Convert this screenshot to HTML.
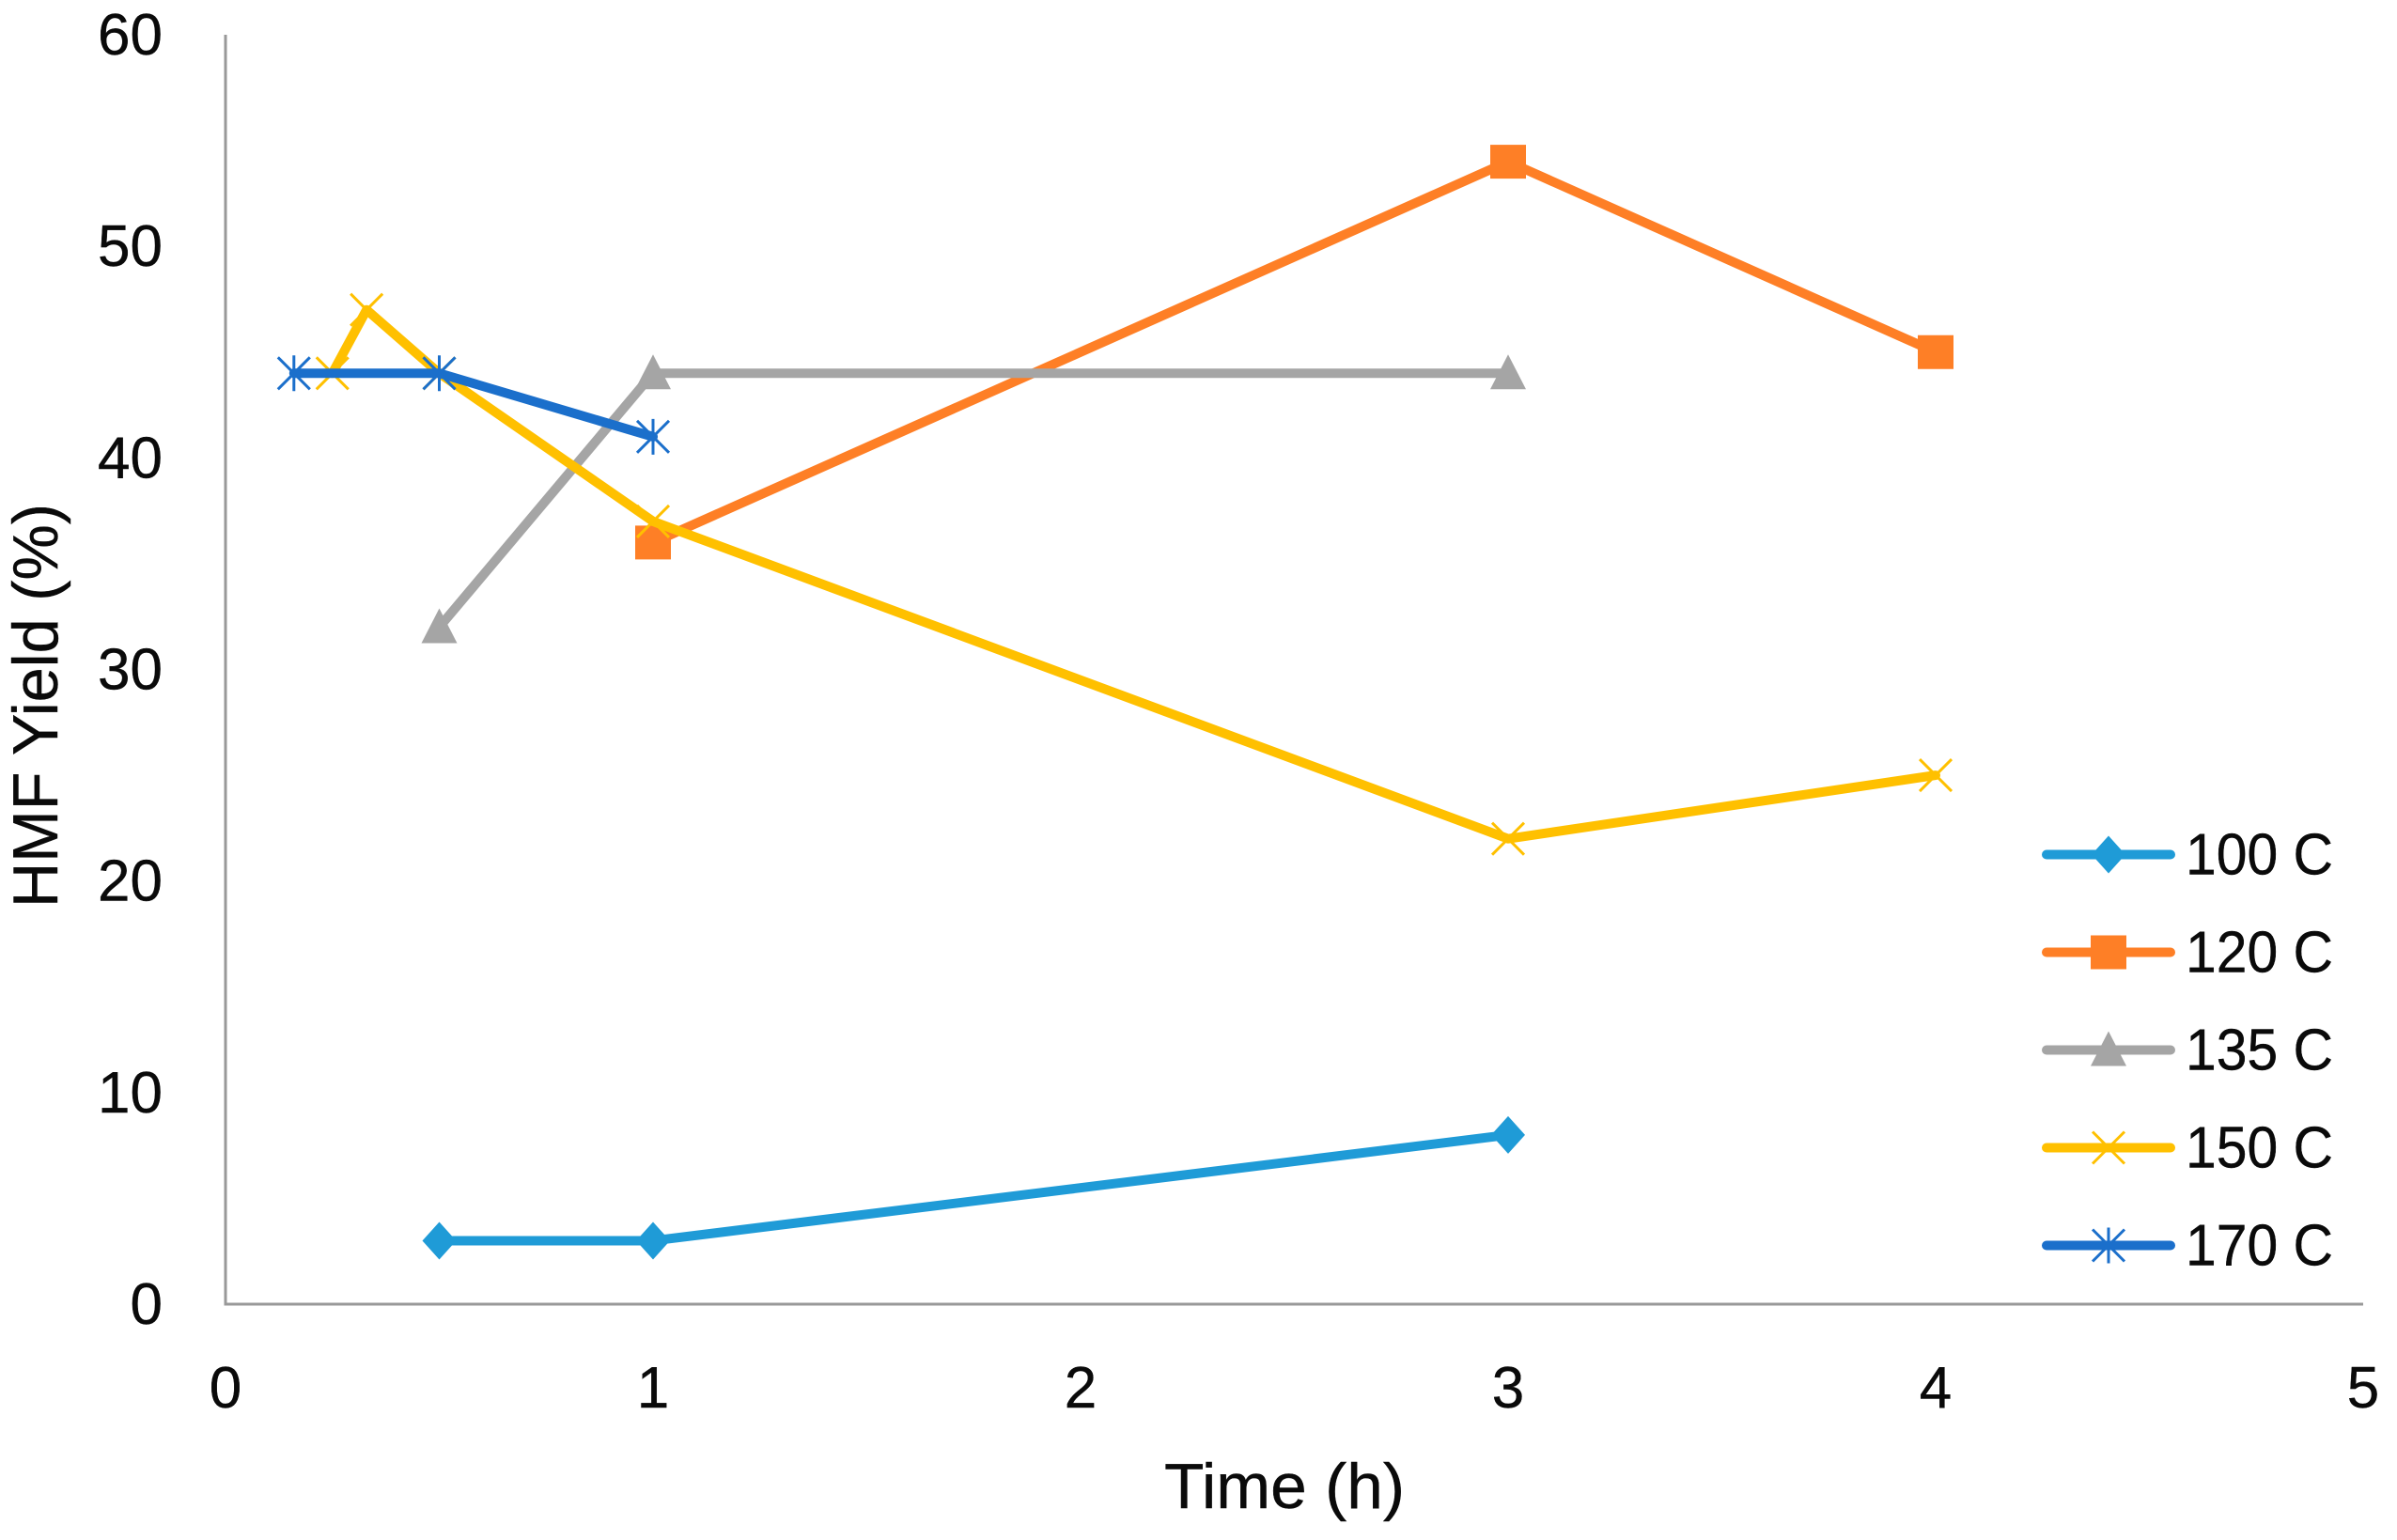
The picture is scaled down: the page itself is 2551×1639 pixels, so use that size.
<!DOCTYPE html>
<html>
<head>
<meta charset="utf-8">
<title>HMF Yield vs Time</title>
<style>
html,body{margin:0;padding:0;background:#fff;}
svg{display:block;}
text{font-family:"Liberation Sans",sans-serif;fill:#0a0a0a;stroke:#0a0a0a;stroke-width:0.4;}
</style>
</head>
<body>
<svg id="chart" xmlns="http://www.w3.org/2000/svg" width="2551" height="1639" viewBox="0 0 2551 1639">
<rect width="2551" height="1639" fill="#ffffff"/>
<g id="axes"></g>
<g id="series"></g>
<g id="legend"></g>
<text x="1367" y="1605" font-size="68" text-anchor="middle" textLength="256" lengthAdjust="spacingAndGlyphs">Time (h)</text>
<text transform="translate(61,751) rotate(-90)" font-size="68" text-anchor="middle" textLength="430" lengthAdjust="spacingAndGlyphs">HMF Yield (%)</text>
</svg>
<script>
const xTicks = [0, 1, 2, 3, 4, 5];
const xTickLabels = ['0', '1', '2', '3', '4', '5'];
const yTicks = [0, 10, 20, 30, 40, 50, 60];
const yTickLabels = ['0', '10', '20', '30', '40', '50', '60'];
const seriesNames = ['100 C', '120 C', '135 C', '150 C', '170 C'];
const time100 = [0.5, 1, 3];
const yield100 = [3, 3, 8];
const time120 = [1, 3, 4];
const yield120 = [36, 54, 45];
const time135 = [0.5, 1, 3];
const yield135 = [32, 44, 44];
const time150 = [0.25, 0.33, 0.5, 1, 3, 4];
const yield150 = [44, 47, 44, 37, 22, 25];
const time170 = [0.16, 0.5, 1];
const yield170 = [44, 44, 41];

const NS = 'http://www.w3.org/2000/svg';
const X0 = 240, X1 = 2515, Y0 = 1388, Y1 = 37;
const xMax = 5, yMax = 60;
function sx(v) { return X0 + (X1 - X0) * v / xMax; }
function sy(v) { return Y0 - (Y0 - Y1) * v / yMax; }
function make(tag, attrs, parent) {
  const el = document.createElementNS(NS, tag);
  for (const k in attrs) el.setAttribute(k, attrs[k]);
  parent.appendChild(el);
  return el;
}
const axes = document.getElementById('axes');
const seriesG = document.getElementById('series');
const legendG = document.getElementById('legend');

const xAxis = make('line', {x1: X0, y1: Y0, x2: X1, y2: Y0, stroke: '#999999', 'stroke-width': 3}, axes);


const yAxis = make('line', {x1: X0, y1: Y0 + 1.5, x2: X0, y2: Y1, stroke: '#999999', 'stroke-width': 3}, axes);



xTicks.forEach(function (t, i) {
  const el = make('text', {x: sx(t), y: 1498, 'font-size': 62, 'text-anchor': 'middle'}, axes);
  el.textContent = xTickLabels[i];
  
  
});
yTicks.forEach(function (t, i) {
  const el = make('text', {x: 173, y: sy(t) + 21, 'font-size': 62, 'text-anchor': 'end'}, axes);
  el.textContent = yTickLabels[i];
  
  
});

function marker(kind, cx, cy, color, parent) {
  let el;
  if (kind === 'diamond') {
    el = make('polygon', {points: [cx, cy - 20, cx + 18, cy, cx, cy + 20, cx - 18, cy].join(','), fill: color}, parent);
  } else if (kind === 'square') {
    el = make('rect', {x: cx - 19, y: cy - 18, width: 38, height: 36, fill: color}, parent);
  } else if (kind === 'triangle') {
    el = make('polygon', {points: [cx, cy - 20, cx + 19, cy + 17, cx - 19, cy + 17].join(','), fill: color}, parent);
  } else if (kind === 'cross') {
    el = make('path', {d: 'M' + (cx - 17) + ' ' + (cy - 17) + 'L' + (cx + 17) + ' ' + (cy + 17) + 'M' + (cx + 17) + ' ' + (cy - 17) + 'L' + (cx - 17) + ' ' + (cy + 17), stroke: color, 'stroke-width': 3, fill: 'none'}, parent);
  } else {
    el = make('path', {d: 'M' + (cx - 17) + ' ' + (cy - 17) + 'L' + (cx + 17) + ' ' + (cy + 17) + 'M' + (cx + 17) + ' ' + (cy - 17) + 'L' + (cx - 17) + ' ' + (cy + 17) + 'M' + cx + ' ' + (cy - 19) + 'L' + cx + ' ' + (cy + 19), stroke: color, 'stroke-width': 3, fill: 'none'}, parent);
  }
  return el;
}

function drawSeries(name, xs, ys, color, kind) {
  const g = make('g', {}, seriesG);
  
  
  const pts = xs.map(function (x, i) { return sx(x) + ',' + sy(ys[i]); }).join(' ');
  const line = make('polyline', {points: pts, fill: 'none', stroke: color, 'stroke-width': 10, 'stroke-linejoin': 'round', 'stroke-linecap': 'round'}, g);
  
  
  xs.forEach(function (x, i) {
    const m = marker(kind, sx(x), sy(ys[i]), color, g);
    
    
  });
}
const seriesColors = ['#1f9bd7', '#fe7f26', '#a5a5a5', '#ffc000', '#1b6fcb'];
const seriesKinds = ['diamond', 'square', 'triangle', 'cross', 'star'];
drawSeries('100c', time100, yield100, seriesColors[0], seriesKinds[0]);
drawSeries('120c', time120, yield120, seriesColors[1], seriesKinds[1]);
drawSeries('135c', time135, yield135, seriesColors[2], seriesKinds[2]);
drawSeries('150c', time150, yield150, seriesColors[3], seriesKinds[3]);
drawSeries('170c', time170, yield170, seriesColors[4], seriesKinds[4]);

seriesNames.forEach(function (n, i) {
  const y = 909.5 + i * 104;
  const g = make('g', {}, legendG);
  
  
  const l = make('line', {x1: 2178, y1: y, x2: 2310, y2: y, stroke: seriesColors[i], 'stroke-width': 10, 'stroke-linecap': 'round'}, g);
  
  
  const m = marker(seriesKinds[i], 2244, y, seriesColors[i], g);
  
  
  const t = make('text', {x: 2326, y: y + 21, 'font-size': 62, textLength: 157, lengthAdjust: 'spacingAndGlyphs'}, g);
  t.textContent = n;
  
  
});
</script>
</body>
</html>
